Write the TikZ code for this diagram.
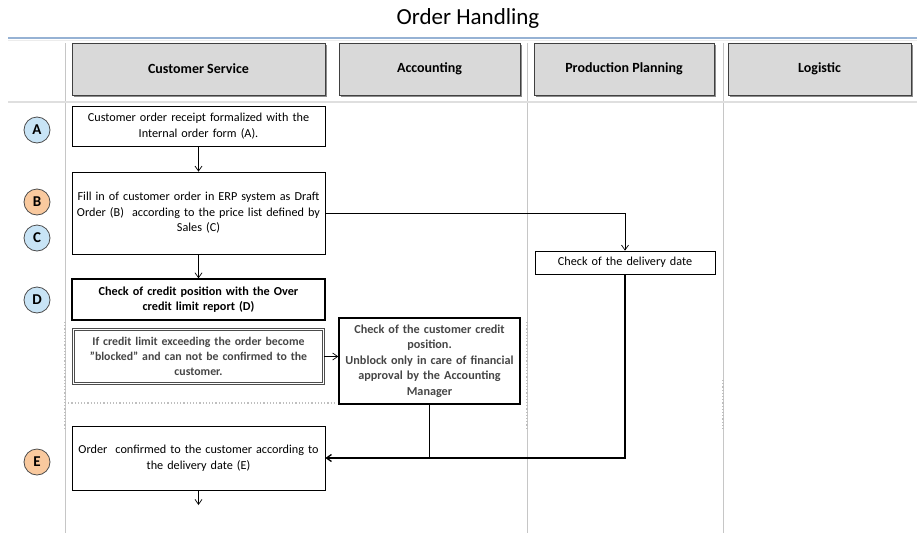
\documentclass[tikz,border=0pt]{standalone}
\usepackage{fontspec}
\setmainfont{Carlito}
\usetikzlibrary{arrows.meta}
\definecolor{hdrfill}{RGB}{217,217,217}
\definecolor{bluecirc}{RGB}{200,228,246}
\definecolor{orangecirc}{RGB}{249,201,158}
\definecolor{titleline}{RGB}{150,178,212}
\definecolor{outtext}{RGB}{70,70,70}
\tikzset{
  hdr/.style={draw=black!75, fill=hdrfill, line width=0.9pt, minimum height=52, inner sep=2pt,
    font=\fontsize{14}{16}\selectfont\bfseries},
  stepbox/.style={draw=black, line width=0.7pt, fill=white, align=center, inner sep=1pt,
    font=\fontsize{12.2}{15.5}\selectfont},
  boldbox/.style={stepbox, line width=1.3pt, font=\fontsize{12.2}{15.5}\selectfont\bfseries},
  lbl/.style={circle, draw=black!70, line width=0.8pt, minimum size=26, inner sep=0pt,
    font=\fontsize{15}{15}\selectfont\bfseries},
  lane/.style={draw=gray!45, line width=0.8pt},
  arr/.style={-{Straight Barb[length=5pt,width=7pt]}, line width=0.7pt}
}
\begin{document}
\begin{tikzpicture}[x=1pt,y=-1pt]
\useasboundingbox (0,0) rectangle (917,533);
\fill[white] (0,0) rectangle (917,533);

% title
\node[font=\fontsize{23}{25}\selectfont] (title) at (468,18) {Order Handling};
\draw[titleline, line width=1.5pt] (8,38) -- (917,38);
\draw[gray!15, line width=1.5pt] (8,40.5) -- (917,40.5);

% lane separators
\draw[lane] (65,43) -- (65,533);
\draw[lane] (527,43) -- (527,533);
\draw[lane] (723,43) -- (723,533);
\draw[gray!25, line width=2pt] (8,102) -- (917,102);
\draw[gray!50, dotted, line width=1.2pt] (65,322) -- (65,430);
\draw[gray!50, dotted, line width=1.2pt] (527,322) -- (527,430);
\draw[gray!50, dotted, line width=1.2pt] (723,380) -- (723,430);
\draw[gray!50, dotted, line width=1.2pt] (65,403) -- (335,403);

% header shadows and headers
\foreach \xa/\xb in {72/325, 339/520, 534/714, 728/911}{
  \fill[black!45] (\xa+2,45) rectangle (\xb+2,97);
}
\node[hdr, minimum width=253] (cs) at (198.5,69) {Customer Service};
\node[hdr, minimum width=181] (acc) at (429.5,69) {Accounting};
\node[hdr, minimum width=180] (pp) at (624,69) {Production Planning};
\node[hdr, minimum width=183] (log) at (819.5,69) {Logistic};

% circles
\node[lbl, fill=bluecirc] (cA) at (37,130) {A};
\node[lbl, fill=orangecirc] (cB) at (37,202) {B};
\node[lbl, fill=bluecirc] (cC) at (37,238) {C};
\node[lbl, fill=bluecirc] (cD) at (37,300) {D};
\node[lbl, fill=orangecirc] (cE) at (37,462) {E};

% steps
\node[stepbox, minimum width=253, minimum height=40, text width=250] (A) at (198.5,126)
  {Customer order receipt formalized with the\\Internal order form (A).};
\node[stepbox, minimum width=253, minimum height=82, text width=250] (B) at (198.5,213)
  {Fill in of customer order in ERP system as Draft\\Order (B)\ \ according to the price list defined by\\Sales (C)};
\node[boldbox, minimum width=253, minimum height=41, text width=250] (D) at (198.5,299.5)
  {Check of credit position with the Over\\credit limit report (D)};
\node[stepbox, draw=black!70, double=white, double distance=1.5pt, line width=0.8pt,
  minimum width=250, minimum height=54, text width=245, text=outtext,
  font=\fontsize{11.8}{15}\selectfont\bfseries] (If) at (198.5,356.5)
  {If credit limit exceeding the order become\\"blocked" and can not be confirmed to the\\customer.};
\node[boldbox, line width=1.5pt, minimum width=181, minimum height=86, text width=178, text=outtext] (Acc) at (429.5,361)
  {Check of the customer credit\\position.\\Unblock only in care of financial\\approval by the Accounting\\Manager};
\node[stepbox, minimum width=180, minimum height=23, text width=176] (PP) at (625,262.5)
  {Check of the delivery date};
\node[stepbox, minimum width=253, minimum height=64, text width=250] (E) at (198.5,458)
  {Order\ \ confirmed to the customer according to\\the delivery date (E)};
\coordinate (Eout) at (198.5,505);

% connectors
\draw[arr] (A.south) -- (B.north);
\draw[arr] (B.south) -- (D.north);
\draw[arr] (B.east) -| (PP.north);
\draw[arr] (If.east) -- (If.east -| Acc.west);
\draw[arr, line width=1.3pt] (PP.south) |- (E.east);
\draw[line width=1.3pt] (Acc.south) -- (Acc.south |- E.east);
\draw[arr] (E.south) -- (Eout);
\end{tikzpicture}
\end{document}
